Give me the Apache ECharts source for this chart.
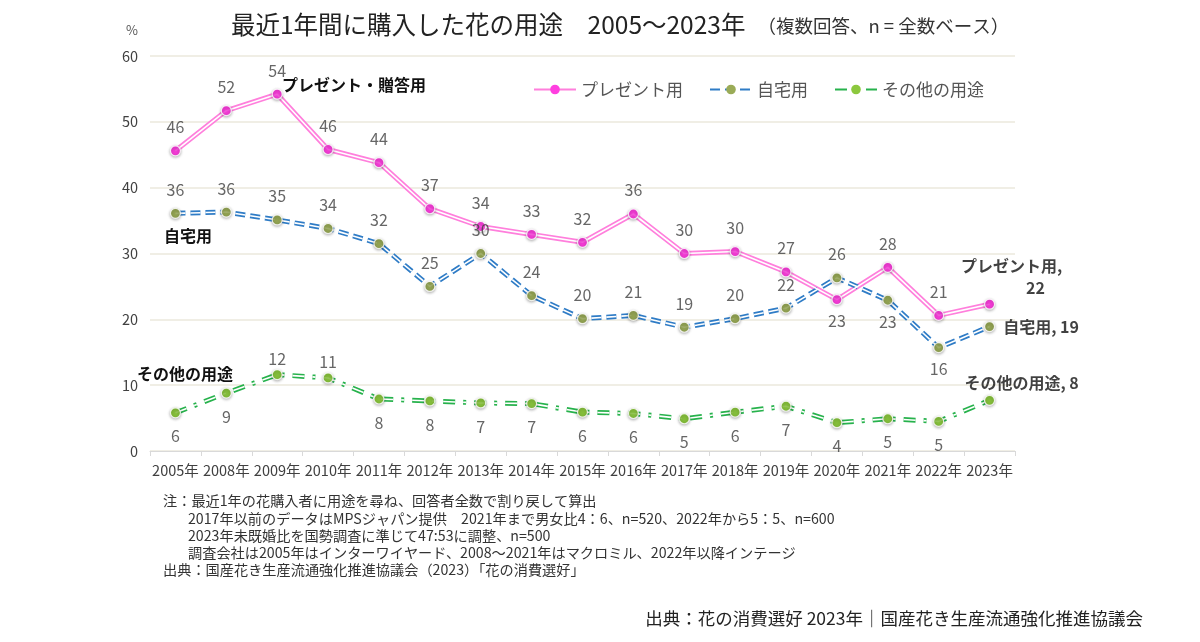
<!DOCTYPE html>
<html><head><meta charset="utf-8">
<script src="https://cdn.jsdelivr.net/npm/echarts@6/dist/echarts.min.js"></script>
<style>html,body{margin:0;padding:0;background:#fff}#c{width:1200px;height:642px}</style>
</head><body><div id="c"></div>
<script>
const categories = ['2005年','2008年','2009年','2010年','2011年','2012年','2013年','2014年','2015年','2016年','2017年','2018年','2019年','2020年','2021年','2022年','2023年'];
const present = [45.6,51.7,54.2,45.8,43.8,36.8,34.1,32.9,31.7,36.0,30.0,30.3,27.2,23.0,27.9,20.6,22.3];
const home    = [36.1,36.3,35.1,33.8,31.5,25.0,30.0,23.6,20.1,20.6,18.8,20.1,21.7,26.3,22.9,15.7,18.9];
const other   = [5.8,8.8,11.6,11.1,7.9,7.6,7.3,7.2,5.9,5.7,4.9,5.9,6.8,4.3,4.9,4.5,7.7];
const seriesNames = ['プレゼント用','自宅用','その他の用途'];
const yTicks = {min:0, max:60, interval:10};

const FONT = "'Noto Sans CJK JP', 'Noto Sans', sans-serif";
const chart = echarts.init(document.getElementById('c'));

// label placement (style only): indices whose label goes below / above
const pinkBelow = [13];
const homeBelow = [14,15];
const otherAbove = [2,3];

function endLabel(kind){
  if(kind===0) return {show:true, position:'top', distance:0, offset:[22,0],
    formatter:p=>'{a|'+p.seriesName.replace('_pt','')+',}\n{b|'+Math.round(p.value)+'}',
    rich:{a:{fontSize:16,fontWeight:'bold',color:'#111',fontFamily:FONT,lineHeight:22,align:'center'},
          b:{fontSize:16,fontWeight:'bold',color:'#111',fontFamily:FONT,lineHeight:22,align:'center',padding:[0,0,0,48]}}};
  if(kind===1) return {show:true, position:'right', distance:8,
    formatter:p=>p.seriesName.replace('_pt','')+', '+Math.round(p.value),
    fontSize:16,fontWeight:'bold',color:'#111',fontFamily:FONT};
  return {show:true, position:'top', distance:4, offset:[32,0],
    formatter:p=>p.seriesName.replace('_pt','')+', '+Math.round(p.value),
    fontSize:16,fontWeight:'bold',color:'#111',fontFamily:FONT};
}

function build(idx, name, data, lineColor, markerColor, dash, defaultPos, flipIdx, flipDist){
  const flip = defaultPos==='top' ? 'bottom' : 'top';
  const ptData = data.map((v,i)=>{
    if(i===data.length-1) return {value:v, label:endLabel(idx)};
    const f = flipIdx.includes(i);
    const pos = f ? flip : defaultPos;
    const lab = {position:pos};
    if(f && flipDist!=null) lab.distance = flipDist;
    return {value:v, label:lab};
  });
  return [
    {type:'line', name:name, data:data, z:2, symbol:'circle', symbolSize:9, showSymbol:true,
     itemStyle:{color:markerColor}, lineStyle:{color:lineColor, width:5, type:dash},
     silent:true, animation:false},
    {type:'line', name:name+'_in', data:data, z:3, showSymbol:false, symbol:'none',
     lineStyle:{color:'#ffffff', width:1.6, type:dash}, silent:true, animation:false},
    {type:'scatter', name:name+'_pt', data:ptData, z:4, symbol:'circle', symbolSize:10,
     itemStyle:{color:markerColor, borderColor:'#ffffff', borderWidth:1.2, shadowBlur:3, shadowColor:'rgba(0,0,0,0.35)', shadowOffsetY:1},
     label:{show:true, distance:10, fontSize:16, color:'#404040', fontFamily:FONT, formatter:p=>Math.round(p.value)},
     silent:true, animation:false}
  ];
}

const series = [].concat(
  build(0, seriesNames[0], present, '#ff7fdc', '#ff3fe0', 'solid', 'top', pinkBelow, 8),
  build(1, seriesNames[1], home, '#2f7cc6', '#9aab57', [10,5], 'top', homeBelow, 8),
  build(2, seriesNames[2], other, '#27b24c', '#8cc83e', [12,8,3,8], 'bottom', otherAbove, 2)
);

const notes = [
  {x:163, y:503, t:'注：最近1年の花購入者に用途を尋ね、回答者全数で割り戻して算出'},
  {x:188, y:521, t:'2017年以前のデータはMPSジャパン提供　2021年まで男女比4：6、n=520、2022年から5：5、n=600'},
  {x:188, y:538, t:'2023年未既婚比を国勢調査に準じて47:53に調整、n=500'},
  {x:188, y:555, t:'調査会社は2005年はインターワイヤード、2008～2021年はマクロミル、2022年以降インテージ'},
  {x:163, y:572, t:'出典：国産花き生産流通強化推進協議会（2023）「花の消費選好」'}
];

chart.setOption({
  backgroundColor:'#ffffff',
  animation:false,
  textStyle:{fontFamily:FONT},
  title:{
    text:'{a|最近1年間に購入した花の用途　2005～2023年}{b|（複数回答、n = 全数ベース）}',
    left:226, top:7,
    textStyle:{fontWeight:'normal', rich:{
      a:{fontSize:24.5, color:'#222', fontFamily:FONT, fontWeight:'normal'},
      b:{fontSize:18.5, color:'#333', fontFamily:FONT, fontWeight:'normal', padding:[4,0,0,12]}
    }}
  },
  legend:{
    data:seriesNames, left:528, top:76, itemWidth:42, itemHeight:12, itemGap:26,
    textStyle:{fontSize:17, color:'#555', fontFamily:FONT}
  },
  grid:{left:150, right:185, top:56, bottom:191},
  xAxis:{
    type:'category', data:categories, boundaryGap:true,
    axisLine:{lineStyle:{color:'#d9d9d9'}},
    axisTick:{show:true, length:5, lineStyle:{color:'#d9d9d9'}},
    axisLabel:{interval:0, fontSize:14.5, color:'#404040', margin:12, fontFamily:FONT}
  },
  yAxis:{
    type:'value', min:yTicks.min, max:yTicks.max, interval:yTicks.interval,
    axisLine:{show:false}, axisTick:{show:false},
    splitLine:{lineStyle:{color:'#ebe9dd', width:1.5}},
    axisLabel:{fontSize:14.5, color:'#404040', margin:12, fontFamily:FONT}
  },
  series:series,
  graphic:[
    {type:'text', left:126, top:24, style:{text:'%', fontSize:13, fill:'#555', fontFamily:FONT}},
    {type:'text', left:282, top:77, style:{text:'プレゼント・贈答用', fontSize:16, fontWeight:'bold', fill:'#111', fontFamily:FONT}},
    {type:'text', left:164, top:228, style:{text:'自宅用', fontSize:16, fontWeight:'bold', fill:'#111', fontFamily:FONT}},
    {type:'text', left:137, top:366, style:{text:'その他の用途', fontSize:16, fontWeight:'bold', fill:'#111', fontFamily:FONT}}
  ].concat(notes.map(n=>({type:'text', left:n.x, top:n.y-9, style:{text:n.t, fontSize:14.2, fill:'#333', fontFamily:FONT}})))
   .concat([{type:'text', right:57, top:610, style:{text:'出典：花の消費選好 2023年｜国産花き生産流通強化推進協議会', fontSize:17.5, fill:'#222', fontFamily:FONT}}])
});
</script></body></html>
